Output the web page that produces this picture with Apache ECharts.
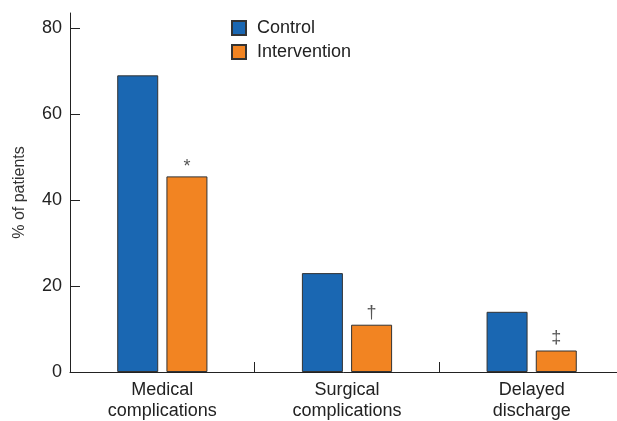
<!DOCTYPE html>
<html>
<head>
<meta charset="utf-8">
<script src="https://cdn.jsdelivr.net/npm/echarts@6/dist/echarts.min.js"></script>
<style>
  html, body { margin: 0; padding: 0; background: #fff; }
  #chart { width: 617px; height: 421px; }
</style>
</head>
<body>
<div id="chart"></div>
<script>
// Outcome categories and percentages per group
const categories = ['Medical\ncomplications', 'Surgical\ncomplications', 'Delayed\ndischarge'];
const controlValues = [69, 23, 14];
const interventionValues = [45.5, 11, 5];
// Significance markers shown above the intervention bars
const significanceMarks = ['*', '\u2020', '\u2021'];
const yTicks = [0, 20, 40, 60, 80];

const FONT = '"Liberation Sans", Arial, Helvetica, sans-serif';
const INK = '#222';

// The asterisk glyph sits high in its box, so nudge it down toward the bar
const interventionData = interventionValues.map((v, i) => ({
  value: v,
  label: { offset: [0, significanceMarks[i] === '*' ? 5 : 2] }
}));

const chart = echarts.init(document.getElementById('chart'), null, { renderer: 'canvas' });

chart.setOption({
  animation: false,
  textStyle: { fontFamily: FONT },
  grid: {
    left: 70, top: 13, width: 554, height: 359,
    containLabel: false,
    outerBoundsMode: 'none'
  },
  legend: {
    orient: 'vertical',
    left: 226,
    top: 14,
    itemWidth: 14,
    itemHeight: 14,
    itemGap: 6,
    icon: 'rect',
    textStyle: { fontFamily: FONT, fontSize: 18, lineHeight: 18, color: INK, padding: [0, 0, 0, 6] },
    data: ['Control', 'Intervention']
  },
  xAxis: {
    type: 'category',
    data: categories,
    boundaryGap: true,
    axisLine: { show: true, lineStyle: { color: INK, width: 1 } },
    axisTick: { show: true, inside: true, length: 10, interval: 0, lineStyle: { color: INK } },
    axisLabel: { fontFamily: FONT, fontSize: 18, color: INK, margin: 8, lineHeight: 21 }
  },
  yAxis: {
    type: 'value',
    min: 0,
    max: 83.5,
    interval: 20,
    name: '% of patients',
    nameLocation: 'middle',
    nameRotate: 90,
    nameGap: 42,
    nameTextStyle: { fontFamily: FONT, fontSize: 16, color: '#333' },
    splitLine: { show: false },
    axisLine: { show: true, lineStyle: { color: INK, width: 1 } },
    axisTick: { show: true, inside: true, length: 10, lineStyle: { color: INK }, customValues: yTicks },
    axisLabel: { fontFamily: FONT, fontSize: 18, color: INK, margin: 8, customValues: yTicks }
  },
  series: [
    {
      name: 'Control',
      type: 'bar',
      data: controlValues,
      barWidth: 41,
      barGap: '20%',
      itemStyle: { color: '#1a67b2', borderColor: '#333', borderWidth: 1 }
    },
    {
      name: 'Intervention',
      type: 'bar',
      data: interventionData,
      barWidth: 41,
      itemStyle: { color: '#f28422', borderColor: '#333', borderWidth: 1 },
      label: {
        show: true,
        position: 'top',
        distance: 5,
        fontFamily: FONT,
        fontSize: 18,
        color: '#555',
        formatter: p => significanceMarks[p.dataIndex]
      }
    }
  ]
});
</script>
</body>
</html>
